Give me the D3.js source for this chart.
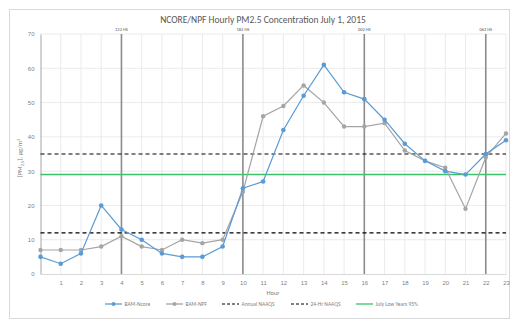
<!DOCTYPE html>
<html>
<head>
<meta charset="utf-8">
<script src="https://cdn.jsdelivr.net/npm/d3@7"></script>
<style>
  html, body { margin: 0; padding: 0; background: #fff; }
  svg { display: block; font-family: Calibri, Carlito, "Liberation Sans", "Open Sans", sans-serif; }
</style>
</head>
<body>
<svg id="chart" width="519" height="328"></svg>
<script>
// Hourly PM2.5 concentrations, July 1, 2015
const hours = d3.range(0, 24);
const bamNcore = [5, 3, 6, 20, 13, 10, 6, 5, 5, 8, 25, 27, 42, 52, 61, 53, 51, 45, 38, 33, 30, 29, 35, 39];
const bamNpf   = [7, 7, 7, 8, 11, 8, 7, 10, 9, 10, 24, 46, 49, 55, 50, 43, 43, 44, 36, 33, 31, 19, 34, 41];

// Reference levels
const annualNaaqs = 12;
const dailyNaaqs = 35;
const julyLow95 = 29;

// Marker lines across the day
const markerHours = [4, 10, 16, 22];
const markerLabels = ["122 HS", "182 HS", "002 HS", "062 HS"];

const yTicks = [0, 10, 20, 30, 40, 50, 60, 70];
const xTickLabels = d3.range(1, 24);

const svg = d3.select("#chart");
const W = 519, H = 328;

// outer frame
svg.append("rect").attr("x", 9.5).attr("y", 9.5).attr("width", W - 19).attr("height", H - 19)
  .attr("fill", "#fff").attr("stroke", "#d9d9d9").attr("stroke-width", 1);

const x = d3.scaleLinear().domain([0, 23]).range([40.5, 506]);
const y = d3.scaleLinear().domain([0, 70]).range([274, 34]);

// gridlines
svg.append("g").selectAll("line").data(yTicks.filter(d => d > 0)).join("line")
  .attr("x1", x(0)).attr("x2", x(23)).attr("y1", d => y(d)).attr("y2", d => y(d))
  .attr("stroke", "#e6e6e6").attr("stroke-width", 0.8);
svg.append("g").selectAll("line").data(hours.filter(d => d > 0)).join("line")
  .attr("x1", d => x(d)).attr("x2", d => x(d)).attr("y1", y(0)).attr("y2", y(70))
  .attr("stroke", "#e6e6e6").attr("stroke-width", 0.8);

// axes
const yAxis = d3.axisLeft(y).tickValues(yTicks).tickSize(0).tickPadding(6);
const gy = svg.append("g").attr("transform", `translate(${x(0)},0)`).call(yAxis);
gy.select(".domain").attr("stroke", "#a6a6a6").attr("stroke-width", 1);
gy.selectAll("text").attr("fill", "#7f7f7f").style("font-size", "6px");

const xAxis = d3.axisBottom(x).tickValues(xTickLabels).tickSize(0).tickPadding(7).tickFormat(d3.format("d"));
const gx = svg.append("g").attr("transform", `translate(0,${y(0)})`).call(xAxis);
gx.select(".domain").attr("stroke", "#d9d9d9").attr("stroke-width", 1);
gx.selectAll("text").attr("fill", "#7f7f7f").style("font-size", "6px");

// vertical marker lines
svg.append("g").selectAll("line").data(markerHours).join("line")
  .attr("x1", d => x(d)).attr("x2", d => x(d)).attr("y1", y(70)).attr("y2", y(0))
  .attr("stroke", "#8c8c8c").attr("stroke-width", 1.6);
svg.append("g").selectAll("text").data(markerHours).join("text")
  .attr("x", d => x(d)).attr("y", 31).attr("text-anchor", "middle")
  .attr("fill", "#595959").style("font-size", "4.5px")
  .text((d, i) => markerLabels[i]);

// reference levels
const refLines = [
  { v: dailyNaaqs, stroke: "#000", dash: "4,3", w: 1.2 },
  { v: annualNaaqs, stroke: "#000", dash: "4,3", w: 1.2 },
  { v: julyLow95, stroke: "#3dc26c", dash: null, w: 1.5 }
];
svg.append("g").selectAll("line").data(refLines).join("line")
  .attr("x1", x(0)).attr("x2", x(23)).attr("y1", d => y(d.v)).attr("y2", d => y(d.v))
  .attr("stroke", d => d.stroke).attr("stroke-width", d => d.w)
  .attr("stroke-dasharray", d => d.dash);

// series
const line = d3.line().x((d, i) => x(hours[i])).y(d => y(d));
const series = [
  { values: bamNpf, color: "#a5a5a5", marker: "circle" },
  { values: bamNcore, color: "#5b9bd5", marker: "square" }
];
series.forEach(s => {
  svg.append("path").datum(s.values).attr("d", line)
    .attr("fill", "none").attr("stroke", s.color).attr("stroke-width", 1.2);
  const g = svg.append("g");
  if (s.marker === "circle") {
    g.selectAll("circle").data(s.values).join("circle")
      .attr("cx", (d, i) => x(hours[i])).attr("cy", d => y(d)).attr("r", 2.2)
      .attr("fill", s.color);
  } else {
    g.selectAll("circle").data(s.values).join("circle")
      .attr("cx", (d, i) => x(hours[i])).attr("cy", d => y(d)).attr("r", 2.3)
      .attr("fill", s.color);
  }
});

// title
svg.append("text").attr("x", 263).attr("y", 23).attr("text-anchor", "middle")
  .attr("fill", "#595959").style("font-size", "9.5px")
  .text("NCORE/NPF Hourly PM2.5 Concentration July 1, 2015");

// axis titles
svg.append("text").attr("x", 273).attr("y", 295).attr("text-anchor", "middle")
  .attr("fill", "#7f7f7f").style("font-size", "6.5px").text("Hour");

const yt = svg.append("text").attr("transform", "translate(22,158) rotate(-90)")
  .attr("text-anchor", "middle").attr("fill", "#7f7f7f").style("font-size", "6.5px");
yt.append("tspan").text("[PM");
yt.append("tspan").attr("dy", 1.5).style("font-size", "4.5px").text("2.5");
yt.append("tspan").attr("dy", -1.5).text("], µg/m");
yt.append("tspan").attr("dy", -2.5).style("font-size", "4.5px").text("3");

// legend
const legendY = 304;
const legend = [
  { label: "BAM-Ncore", color: "#5b9bd5", dash: null, marker: true, x0: 105 },
  { label: "BAM-NPF", color: "#a5a5a5", dash: null, marker: true, x0: 166 },
  { label: "Annual NAAQS", color: "#000", dash: "3,2", marker: false, x0: 222 },
  { label: "24-Hr NAAQS", color: "#000", dash: "3,2", marker: false, x0: 291 },
  { label: "July Low Years 95%", color: "#3dc26c", dash: null, marker: false, x0: 356 }
];
const lg = svg.append("g").selectAll("g").data(legend).join("g");
lg.append("line").attr("x1", d => d.x0).attr("x2", d => d.x0 + 17)
  .attr("y1", legendY).attr("y2", legendY)
  .attr("stroke", d => d.color).attr("stroke-width", d => d.dash ? 1 : 1.3)
  .attr("stroke-dasharray", d => d.dash);
lg.filter(d => d.marker).append("circle").attr("cx", d => d.x0 + 8.5).attr("cy", legendY)
  .attr("r", 2).attr("fill", d => d.color);
lg.append("text").attr("x", d => d.x0 + 19.5).attr("y", legendY + 2)
  .attr("fill", "#7f7f7f").style("font-size", "5.5px").text(d => d.label);
</script>
</body>
</html>
